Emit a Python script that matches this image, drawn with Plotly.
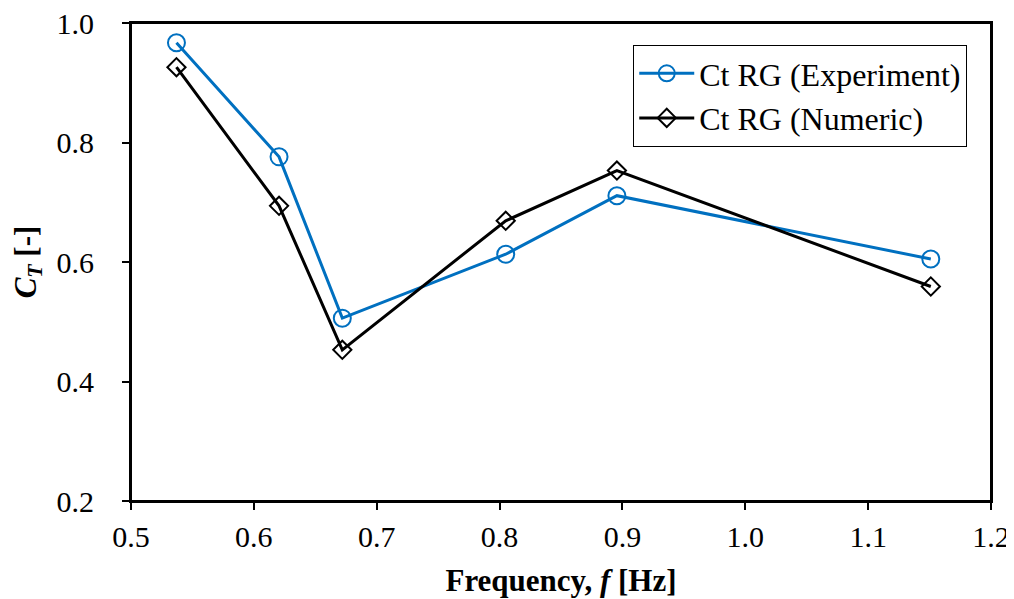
import plotly.graph_objects as go

freq_exp = [0.537, 0.6205, 0.672, 0.805, 0.8955, 1.151]
ct_exp = [0.967, 0.776, 0.506, 0.613, 0.711, 0.605]
freq_num = [0.537, 0.6205, 0.672, 0.805, 0.8955, 1.151]
ct_num = [0.926, 0.694, 0.453, 0.669, 0.753, 0.559]

x_ticks = [0.5, 0.6, 0.7, 0.8, 0.9, 1.0, 1.1, 1.2]
x_tick_text = ["0.5", "0.6", "0.7", "0.8", "0.9", "1.0", "1.1", "1.2"]
y_ticks = [0.2, 0.4, 0.6, 0.8, 1.0]
y_tick_text = ["0.2", "0.4", "0.6", "0.8", "1.0"]

FONT = "Liberation Serif, Times New Roman, serif"

fig = go.Figure()
fig.add_trace(go.Scatter(
    x=freq_exp, y=ct_exp, mode="lines+markers", name="Ct RG (Experiment)",
    line=dict(color="#0070C0", width=3),
    marker=dict(symbol="circle-open", size=17, color="#0070C0", line=dict(width=2, color="#0070C0")),
))
fig.add_trace(go.Scatter(
    x=freq_num, y=ct_num, mode="lines+markers", name="Ct RG (Numeric)",
    line=dict(color="#000000", width=3),
    marker=dict(symbol="diamond-open", size=14, color="#000000", line=dict(width=2, color="#000000")),
))

fig.add_shape(type="rect", xref="paper", yref="paper", x0=0, y0=0, x1=1, y1=1,
              line=dict(color="black", width=2), fillcolor="rgba(0,0,0,0)", layer="above")

fig.update_layout(
    width=1014, height=599,
    margin=dict(l=123, r=31, t=15, b=106, autoexpand=False),
    paper_bgcolor="white", plot_bgcolor="white",
    font=dict(family=FONT, size=30, color="black"),
    legend=dict(
        x=0.584, y=0.954, xanchor="left", yanchor="top",
        bgcolor="white", bordercolor="black", borderwidth=1,
        font=dict(family=FONT, size=32, color="black"),
        tracegroupgap=0, itemwidth=55,
    ),
    xaxis=dict(
        range=[0.5, 1.2], tickvals=x_ticks, ticktext=x_tick_text,
        showgrid=False, zeroline=False, automargin=False,
        showline=True, linecolor="black", linewidth=2, mirror=True,
        ticks="outside", ticklen=7, tickwidth=2, tickcolor="black",
        tickfont=dict(family=FONT, size=30), ticklabelstandoff=1,
        ticklabeloverflow="allow",
        title=dict(text="<b>Frequency, <i>f</i> [Hz]</b>", font=dict(family=FONT, size=31), standoff=17),
    ),
    yaxis=dict(
        range=[0.2, 1.0], tickvals=y_ticks, ticktext=y_tick_text,
        showgrid=False, zeroline=False, automargin=False,
        showline=True, linecolor="black", linewidth=2, mirror=True,
        ticks="outside", ticklen=7, tickwidth=2, tickcolor="black",
        tickfont=dict(family=FONT, size=30), ticklabelstandoff=22,
        ticklabeloverflow="allow",
        title=dict(text="<b><i>C<sub>T</sub></i> [-]</b>", font=dict(family=FONT, size=31), standoff=15),
    ),
)

fig.write_html("out.html")
